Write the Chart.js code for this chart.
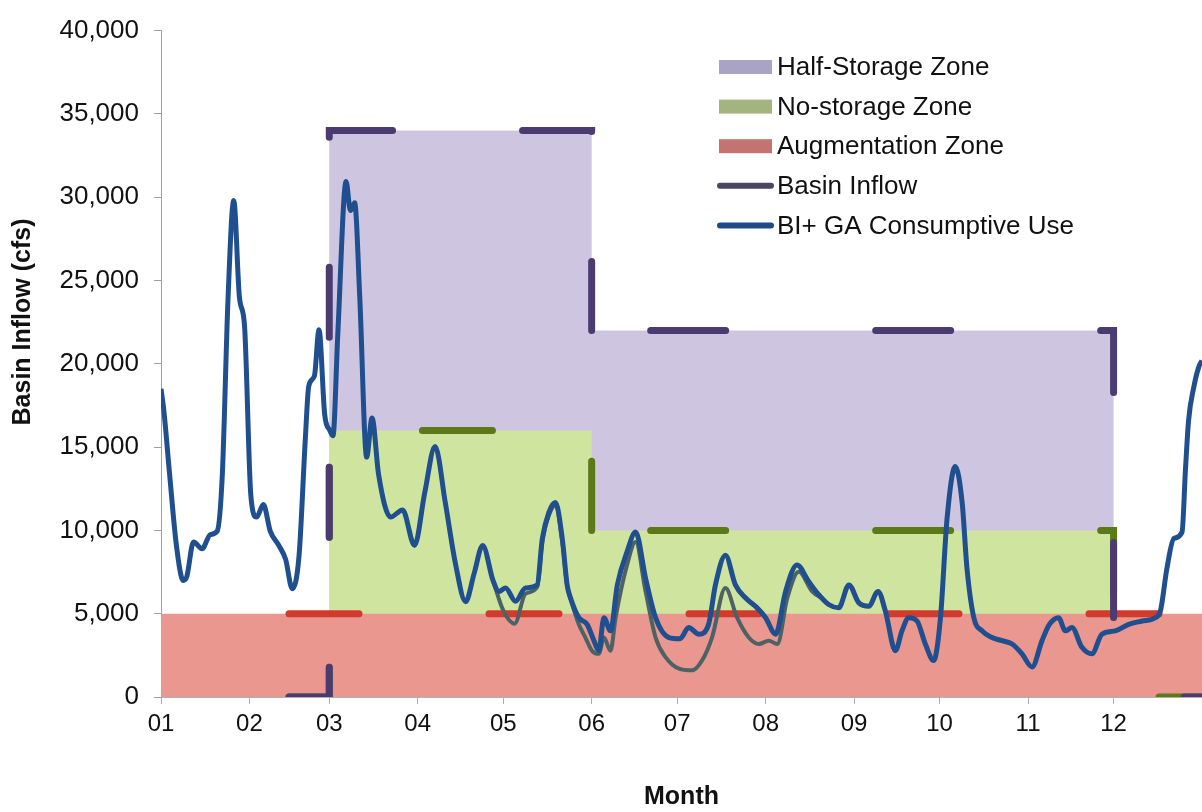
<!DOCTYPE html>
<html>
<head>
<meta charset="utf-8">
<script src="https://cdn.jsdelivr.net/npm/chart.js@4.4.1/dist/chart.umd.min.js"></script>
<style>
  html, body { margin: 0; padding: 0; background: #ffffff; }
  #wrap { width: 1202px; height: 812px; }
</style>
</head>
<body>
<div id="wrap"><canvas id="inflowChart" width="1202" height="812"></canvas></div>
<script>
// day of year where each month starts, and the tick labels
const monthStarts = [0, 31, 59, 90, 120, 151, 181, 212, 243, 273, 304, 334];
const monthLabels = ["01", "02", "03", "04", "05", "06", "07", "08", "09", "10", "11", "12"];

// zone boundaries (step shape)
const zoneDays = [0, 59, 59, 151, 151, 334, 334, 365];
const augmentationTop = [5000, 5000, 5000, 5000, 5000, 5000, 5000, 5000];
const noStorageTop = [0, 0, 16000, 16000, 10000, 10000, 0, 0];
const basinInflow = [0, 0, 34000, 34000, 22000, 22000, 0, 0];

// BI + GA consumptive use (cfs)
const biDays = [0, 1, 3, 5.4, 7.8, 9, 11.4, 14.4, 17.3, 19.7, 21.5, 23.5, 25.5, 27.5, 29.3,
  31.5, 33.5, 35.9, 38.3, 41.3, 43.7, 46, 48.4, 50.6, 51.8, 53.8, 55.4, 57.4, 59.2, 60.3,
  62, 64.9, 66.4, 67.9, 69.7, 72.1, 74, 76.3, 80.5, 84.7, 88.9, 92.5, 96.1, 99.7, 103.2,
  106.8, 109.8, 112.8, 116.4, 118.5, 120.8, 124.3, 127.8, 131.9, 133.7, 136, 138.3, 140.7,
  142.4, 143.6, 146.5, 149.4, 151.8, 153.5, 155.3, 157.6, 160, 163.4, 166.4, 169.9, 173.4,
  178.1, 182, 185, 188.6, 192, 194.4, 197.9, 201.4, 205, 209, 212, 215.5, 219, 223, 227.1,
  230.6, 234.1, 237.6, 241.2, 244.7, 248.2, 251.4, 254, 257.5, 259.8, 262.2, 265.1, 268,
  270.9, 273.3, 275.6, 278.5, 280.9, 282.6, 285, 287.9, 291.4, 294.9, 298.4, 301.9, 305.4,
  308.9, 311.5, 314.7, 317.1, 319.4, 322.9, 326.4, 329.9, 334.6, 339.3, 344, 348.6, 350.4,
  352.7, 355.1, 358, 359.2, 360.3, 362.1, 363.8, 365];
const biFlow = [18500, 17200, 13400, 9100, 7000, 7200, 9300, 8900, 9750, 9960, 13350, 23900, 29800, 24000, 22250,
  12100, 10800, 11550, 9960, 9100, 8260, 6500, 8480, 15470, 18650, 19280, 22040, 16950, 16000, 15680,
  21830, 30940, 29200, 29670, 23950, 14400, 16740, 13350, 10800, 11230, 9100, 12290, 15040, 11650, 8050,
  5720, 7420, 9100, 7000, 6340, 6540, 5750, 6540, 6730, 9500, 11080, 11670, 9500,
  6730, 5940, 4760, 4360, 3380, 2780, 4760, 3970, 6730, 8710, 9900, 7130, 4760,
  3570, 3500, 4170, 3770, 4360, 6730, 8510, 6730, 5940, 5350, 4760, 3770, 6340, 7920, 6930,
  6140, 5550, 5350, 6730, 5650, 5450, 6340, 5150, 2780, 3970, 4760, 4560, 3180,
  2190, 4760, 10680, 13840, 11670, 7720, 4760, 3970, 3570, 3380, 3180, 2590, 1800,
  3380, 4360, 4760, 3970, 4170, 2980, 2590, 3770, 3970, 4360, 4560, 4760, 5150,
  7720, 9500, 9900, 13650, 16610, 18580, 19770, 20200];

// lower grey trace, only where it shows below the blue one
const lowDays = [116.4, 120, 124, 127.8, 131.9, 133.7, 136, 138.3, 140.7, 142.4, 144.2, 146.5,
  148.8, 151.1, 153.5, 155.3, 157.6, 159.4, 163.4, 166.4, 169.9, 173.4, 176.9, 181.6, 186.2,
  189.7, 193.2, 197.9, 202, 206.1, 209.6, 213.1, 216.1, 219.6, 223.6, 228.3, 232];
const lowFlow = [7000, 5200, 4400, 6200, 6600, 9300, 10900, 11500, 9300, 6700, 5550, 4360,
  3570, 2780, 2590, 3570, 2780, 4760, 7920, 9300, 6340, 3570, 2390, 1700, 1600,
  2190, 3570, 6540, 4760, 3570, 3180, 3380, 3180, 5940, 7520, 6340, 5900];

const pts = (xs, ys) => xs.map((x, i) => ({ x: x, y: ys[i] }));

const FONT = "'Liberation Sans', Arial, sans-serif";
const DASH = [70, 130];
const DASH_OFFSET = 72;
// after the drop at month 06 the dashes run on a longer spacing
const lateDash = {
  borderDash: (c) => (c.p0DataIndex >= 4 ? [75, 150] : undefined),
  borderDashOffset: (c) => (c.p0DataIndex >= 4 ? 166 : undefined),
};

// legend drawn inside the plot, top right, like the original
const zoneLegend = {
  id: "zoneLegend",
  afterDatasetsDraw(chart) {
    const ctx = chart.ctx;
    const items = [
      { text: chart.data.datasets[7].label, kind: "box", color: "#a9a3c6" },
      { text: chart.data.datasets[6].label, kind: "box", color: "#a4b47e" },
      { text: chart.data.datasets[5].label, kind: "box", color: "#c47470" },
      { text: chart.data.datasets[2].label, kind: "line", color: "#4a4760" },
      { text: chart.data.datasets[0].label, kind: "line", color: "#1e4a86" },
    ];
    ctx.save();
    ctx.font = "26px " + FONT;
    ctx.textBaseline = "middle";
    items.forEach((it, i) => {
      const cy = 67 + i * 39.6;
      if (it.kind === "box") {
        ctx.fillStyle = it.color;
        ctx.fillRect(719, cy - 7, 53, 14);
      } else {
        ctx.strokeStyle = it.color;
        ctx.lineWidth = 6;
        ctx.lineCap = "round";
        ctx.beginPath();
        ctx.moveTo(720, cy);
        ctx.lineTo(771, cy);
        ctx.stroke();
      }
      ctx.fillStyle = "#111111";
      ctx.fillText(it.text, 777, cy + 1);
    });
    ctx.restore();
  },
};

// y title sits a bit above the middle of the axis in the original
const yTitle = {
  id: "yTitle",
  afterDraw(chart) {
    const ctx = chart.ctx;
    ctx.save();
    ctx.translate(23, 322);
    ctx.rotate(-Math.PI / 2);
    ctx.font = "bold 25px " + FONT;
    ctx.fillStyle = "#111111";
    ctx.textAlign = "center";
    ctx.textBaseline = "middle";
    ctx.fillText("Basin Inflow (cfs)", 0, 0);
    ctx.restore();
  },
};

document.addEventListener("DOMContentLoaded", function () {
  const ctx = document.getElementById("inflowChart").getContext("2d");
  new Chart(ctx, {
    type: "line",
    data: {
      datasets: [
        {
          label: "BI+ GA Consumptive Use",
          data: pts(biDays, biFlow),
          borderColor: "#1f4f8f",
          borderWidth: 5,
          cubicInterpolationMode: "monotone",
          pointRadius: 0,
          fill: false,
        },
        {
          label: "",
          data: pts(lowDays, lowFlow),
          borderColor: "#4d6264",
          borderWidth: 4,
          cubicInterpolationMode: "monotone",
          pointRadius: 0,
          fill: false,
        },
        {
          label: "Basin Inflow",
          data: pts(zoneDays, basinInflow),
          borderColor: "#4b3b71",
          borderWidth: 7,
          borderDash: DASH,
          borderDashOffset: DASH_OFFSET,
          borderCapStyle: "round",
          segment: lateDash,
          tension: 0,
          pointRadius: 0,
          fill: false,
        },
        {
          label: "",
          data: pts(zoneDays, noStorageTop),
          borderColor: "#5b7a17",
          borderWidth: 7,
          borderDash: DASH,
          borderDashOffset: DASH_OFFSET,
          borderCapStyle: "round",
          segment: lateDash,
          tension: 0,
          pointRadius: 0,
          fill: false,
        },
        {
          label: "",
          data: pts(zoneDays, augmentationTop),
          borderColor: "#d23a2e",
          borderWidth: 7,
          borderDash: DASH,
          borderDashOffset: DASH_OFFSET,
          borderCapStyle: "round",
          tension: 0,
          pointRadius: 0,
          fill: false,
        },
        {
          label: "Augmentation Zone",
          data: pts(zoneDays, augmentationTop),
          borderWidth: 0,
          borderColor: "rgba(0,0,0,0)",
          backgroundColor: "#e9978f",
          tension: 0,
          pointRadius: 0,
          fill: "origin",
        },
        {
          label: "No-storage Zone",
          data: pts(zoneDays, noStorageTop),
          borderWidth: 0,
          borderColor: "rgba(0,0,0,0)",
          backgroundColor: "#cfe59f",
          tension: 0,
          pointRadius: 0,
          fill: "origin",
        },
        {
          label: "Half-Storage Zone",
          data: pts(zoneDays, basinInflow),
          borderWidth: 0,
          borderColor: "rgba(0,0,0,0)",
          backgroundColor: "#cec5e0",
          tension: 0,
          pointRadius: 0,
          fill: "origin",
        },
      ],
    },
    options: {
      responsive: false,
      animation: false,
      layout: { padding: { top: 22, right: 0, left: 0, bottom: 0 } },
      plugins: {
        legend: { display: false },
        tooltip: { enabled: false },
      },
      scales: {
        x: {
          type: "linear",
          min: 0,
          max: 365,
          afterFit: (scale) => { scale.height = 115; },
          afterBuildTicks: (scale) => {
            scale.ticks = monthStarts.map((v) => ({ value: v }));
          },
          ticks: {
            color: "#111111",
            font: { family: FONT, size: 24 },
            padding: 6,
            maxRotation: 0,
            autoSkip: false,
            callback: (v) => monthLabels[monthStarts.indexOf(v)],
          },
          grid: { drawOnChartArea: false, tickLength: 7, color: "#b0b0b0" },
          border: { color: "#b0b0b0" },
          title: {
            display: true,
            text: "Month",
            color: "#111111",
            font: { family: FONT, size: 25, weight: "bold" },
            padding: { top: 0, bottom: 0 },
          },
        },
        y: {
          min: 0,
          max: 40000,
          afterFit: (scale) => { scale.width = 161; },
          ticks: {
            stepSize: 5000,
            color: "#111111",
            font: { family: FONT, size: 26 },
            padding: 15,
            callback: (v) => v.toLocaleString("en-US"),
          },
          grid: { drawOnChartArea: false, tickLength: 7, color: "#a0a0a0" },
          border: { color: "#a0a0a0" },
          title: { display: false },
        },
      },
    },
    plugins: [zoneLegend, yTitle],
  });
});
</script>
</body>
</html>
